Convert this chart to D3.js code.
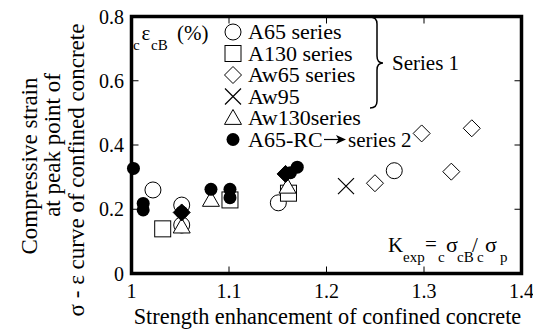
<!DOCTYPE html>
<html>
<head>
<meta charset="utf-8">
<script src="https://cdn.jsdelivr.net/npm/d3@7"></script>
<style>
  body { margin: 0; background: #fff; }
</style>
</head>
<body>
<svg id="chart" width="533" height="329"></svg>
<script>
// values
const xTicks = [1, 1.1, 1.2, 1.3, 1.4];
const yTicks = [0, 0.2, 0.4, 0.6, 0.8];

const a65 = [[1.022, 0.26], [1.0515, 0.213], [1.0515, 0.151], [1.1506, 0.22], [1.2695, 0.32]];
const a130 = [[1.032, 0.139], [1.101, 0.229], [1.161, 0.25]];
const aw65 = [[1.2497, 0.281], [1.2976, 0.436], [1.328, 0.317], [1.349, 0.452]];
const aw95 = [[1.22, 0.272]];
const aw130 = [[1.0515, 0.146], [1.0815, 0.229], [1.16, 0.27]];
const aw65rc = [[1.0515, 0.19], [1.158, 0.31]];
const a65rc = [[1.002, 0.327], [1.012, 0.218], [1.012, 0.198], [1.0515, 0.191], [1.0815, 0.262],
               [1.101, 0.262], [1.101, 0.236], [1.163, 0.314], [1.170, 0.331]];

const legendLabels = ["A65 series", "A130 series", "Aw65 series", "Aw95", "Aw130series", "A65-RC"];

const svg = d3.select("#chart")
  .attr("font-family", "'Liberation Serif', 'Times New Roman', Times, serif");

const mLeft = 131.5, mRight = 521.5, mTop = 16.5, mBottom = 273.5;

const x = d3.scaleLinear().domain([1, 1.4]).range([mLeft, mRight]);
const y = d3.scaleLinear().domain([0, 0.8]).range([mBottom, mTop]);

// marker drawers
function circleOpen(g, cx, cy) {
  g.append("circle").attr("cx", cx).attr("cy", cy).attr("r", 8)
    .attr("fill", "#fff").attr("stroke", "#000").attr("stroke-width", 1);
}
function circleFilled(g, cx, cy) {
  g.append("circle").attr("cx", cx).attr("cy", cy).attr("r", 6.5).attr("fill", "#000");
}
function square(g, cx, cy) {
  g.append("rect").attr("x", cx - 8).attr("y", cy - 8).attr("width", 16).attr("height", 16)
    .attr("fill", "#fff").attr("stroke", "#000").attr("stroke-width", 1);
}
function diamond(g, cx, cy, filled) {
  const s = 8.5;
  g.append("path").attr("d", `M${cx},${cy - s}L${cx + s},${cy}L${cx},${cy + s}L${cx - s},${cy}Z`)
    .attr("fill", filled ? "#000" : "#fff").attr("stroke", "#000").attr("stroke-width", 1);
}
function cross(g, cx, cy) {
  const s = 8;
  g.append("path").attr("d", `M${cx - s},${cy - s}L${cx + s},${cy + s}M${cx - s},${cy + s}L${cx + s},${cy - s}`)
    .attr("fill", "none").attr("stroke", "#000").attr("stroke-width", 1.2);
}
function triangle(g, cx, cy) {
  const s = 8.5;
  g.append("path").attr("d", `M${cx},${cy - s}L${cx + s},${cy + s * 0.75}L${cx - s},${cy + s * 0.75}Z`)
    .attr("fill", "#fff").attr("stroke", "#000").attr("stroke-width", 1);
}

// ticks (inner, on all four sides)
const tickG = svg.append("g").attr("stroke", "#000").attr("stroke-width", 1);
xTicks.slice(1, -1).forEach(v => {
  tickG.append("line").attr("x1", x(v)).attr("x2", x(v)).attr("y1", mBottom).attr("y2", mBottom - 7);
  tickG.append("line").attr("x1", x(v)).attr("x2", x(v)).attr("y1", mTop).attr("y2", mTop + 7);
});
yTicks.slice(1, -1).forEach(v => {
  tickG.append("line").attr("x1", mLeft).attr("x2", mLeft + 7).attr("y1", y(v)).attr("y2", y(v));
  tickG.append("line").attr("x1", mRight).attr("x2", mRight - 7).attr("y1", y(v)).attr("y2", y(v));
});

// data points
const pts = svg.append("g");
a65.forEach(d => circleOpen(pts, x(d[0]), y(d[1])));
a130.forEach(d => square(pts, x(d[0]), y(d[1])));
aw130.forEach(d => triangle(pts, x(d[0]), y(d[1])));
aw65.forEach(d => diamond(pts, x(d[0]), y(d[1]), false));
aw95.forEach(d => cross(pts, x(d[0]), y(d[1])));
a65rc.forEach(d => circleFilled(pts, x(d[0]), y(d[1])));
aw65rc.forEach(d => diamond(pts, x(d[0]), y(d[1]), true));

// frame
svg.append("rect").attr("x", mLeft).attr("y", mTop)
  .attr("width", mRight - mLeft).attr("height", mBottom - mTop)
  .attr("fill", "none").attr("stroke", "#000").attr("stroke-width", 3.5);

// tick labels
svg.append("g").selectAll("text").data(xTicks).join("text")
  .attr("x", d => x(d)).attr("y", 298).attr("text-anchor", "middle")
  .attr("font-size", 20).text(d => d3.format("~g")(d));
svg.append("g").selectAll("text").data(yTicks).join("text")
  .attr("x", 124).attr("y", d => y(d) + 7).attr("text-anchor", "end")
  .attr("font-size", 20).text(d => d3.format("~g")(d));

// axis titles
svg.append("text").attr("x", (mLeft + mRight) / 2 + 1).attr("y", 324).attr("text-anchor", "middle")
  .attr("font-size", 22.3).text("Strength enhancement of confined concrete");

const yLines = [
  { t: "Compressive strain", bx: 37, cy: 166 },
  { t: "at peak point of", bx: 60, cy: 145 },
  { t: "σ - ε curve of confined concrete", bx: 84, cy: 170 }
];
yLines.forEach(l => {
  svg.append("text").attr("transform", `translate(${l.bx},${l.cy}) rotate(-90)`)
    .attr("text-anchor", "middle").attr("font-size", 23).text(l.t);
});

// unit label  cεcB (%)
const unit = svg.append("g");
unit.append("text").attr("x", 133).attr("y", 50).attr("font-size", 15).text("c");
unit.append("text").attr("x", 141.5).attr("y", 40).attr("font-size", 21).text("ε");
unit.append("text").attr("x", 151).attr("y", 50).attr("font-size", 15).text("cB");
unit.append("text").attr("x", 177).attr("y", 40).attr("font-size", 21).text("(%)");

// legend
const legendY = [32, 53.5, 75, 96.5, 118, 139.5];
const lx = 233;
const leg = svg.append("g");
circleOpen(leg, lx, legendY[0]);
square(leg, lx, legendY[1]);
diamond(leg, lx, legendY[2], false);
cross(leg, lx, legendY[3]);
triangle(leg, lx, legendY[4]);
circleFilled(leg, lx, legendY[5]);
legendLabels.forEach((t, i) => {
  leg.append("text").attr("x", 248).attr("y", legendY[i] + 7).attr("font-size", 22).text(t);
});
// arrow to "series 2"
const ay = legendY[5];
leg.append("line").attr("x1", 324).attr("x2", 340).attr("y1", ay).attr("y2", ay)
  .attr("stroke", "#000").attr("stroke-width", 1.2);
leg.append("path").attr("d", `M346,${ay}L336,${ay - 4.5}L338.5,${ay}L336,${ay + 4.5}Z`).attr("fill", "#000");
leg.append("text").attr("x", 348).attr("y", legendY[5] + 7).attr("font-size", 21).text("series 2");

// brace for Series 1
leg.append("path")
  .attr("d", "M370,17 Q377,17 377,24 L377,56 Q377,63 383,63 Q377,63 377,70 L377,101 Q377,108 370,108")
  .attr("fill", "none").attr("stroke", "#000").attr("stroke-width", 1.5);
leg.append("text").attr("x", 392).attr("y", 70).attr("font-size", 21).text("Series 1");

// K_exp = cσcB / cσp
const k = svg.append("g");
k.append("text").attr("x", 388).attr("y", 252).attr("font-size", 21).text("K");
k.append("text").attr("x", 403).attr("y", 262).attr("font-size", 15).text("exp");
k.append("text").attr("x", 425).attr("y", 251).attr("font-size", 21).text("=");
k.append("text").attr("x", 438).attr("y", 262).attr("font-size", 15).text("c");
k.append("text").attr("x", 446).attr("y", 252).attr("font-size", 22).text("σ");
k.append("text").attr("x", 457).attr("y", 262).attr("font-size", 15).text("cB");
k.append("text").attr("x", 472).attr("y", 252).attr("font-size", 21).text("/");
k.append("text").attr("x", 477).attr("y", 262).attr("font-size", 15).text("c");
k.append("text").attr("x", 485).attr("y", 252).attr("font-size", 22).text("σ");
k.append("text").attr("x", 500).attr("y", 262).attr("font-size", 15).text("p");
</script>
</body>
</html>
